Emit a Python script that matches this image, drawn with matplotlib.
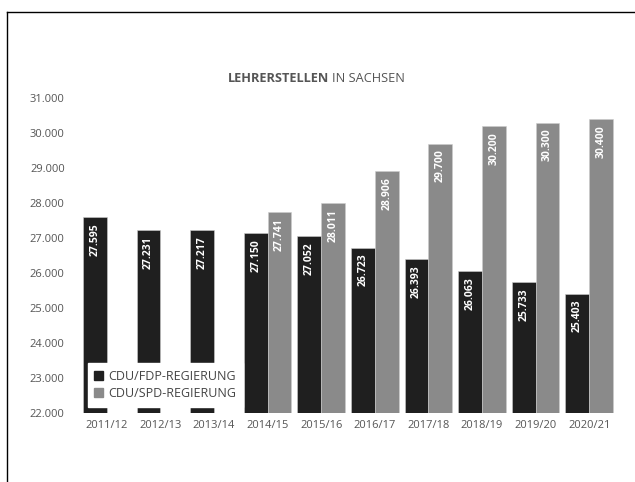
import numpy as np
import matplotlib
matplotlib.use("Agg")
import matplotlib.pyplot as plt
from matplotlib.lines import Line2D
from matplotlib.patches import Patch

plt.rcParams['font.family'] = ['Open Sans', 'DejaVu Sans']

years = ["2011/12", "2012/13", "2013/14", "2014/15", "2015/16",
         "2016/17", "2017/18", "2018/19", "2019/20", "2020/21"]
fdp = [27595, 27231, 27217, 27150, 27052, 26723, 26393, 26063, 25733, 25403]
spd = [None, None, None, 27741, 28011, 28906, 29700, 30200, 30300, 30400]
series_names = ["CDU/FDP-REGIERUNG", "CDU/SPD-REGIERUNG"]

c_dark = '#1f1f1f'
c_gray = '#8a8a8a'
c_text = '#555555'

def fmt(v):
    return "{:,}".format(v).replace(",", ".")

fig = plt.figure(figsize=(6.35, 4.82), dpi=100)
ax = fig.add_axes([0.126, 0.143, 0.844, 0.6535])

x = np.arange(len(years))
w = 0.444
base = 22000
for i in range(len(years)):
    ax.bar(x[i] - w / 2, fdp[i] - base, w, bottom=base, color=c_dark,
           edgecolor='#cccccc', linewidth=0.4, zorder=2)
    ax.text(x[i] - w / 2, fdp[i] - 170, fmt(fdp[i]), rotation=90,
            ha='center', va='top', color='white', fontsize=7.5,
            fontweight='bold', zorder=3)
    if spd[i] is not None:
        ax.bar(x[i] + w / 2, spd[i] - base, w, bottom=base, color=c_gray,
               edgecolor='#cccccc', linewidth=0.4, zorder=2)
        ax.text(x[i] + w / 2, spd[i] - 170, fmt(spd[i]), rotation=90,
                ha='center', va='top', color='white', fontsize=7.5,
                fontweight='bold', zorder=3)

ax.set_xlim(-0.5, len(years) - 0.5)
ax.set_ylim(22000, 31000)
ax.set_yticks(np.arange(22000, 31001, 1000))
ax.set_yticklabels([fmt(v) for v in range(22000, 31001, 1000)])
ax.set_xticks(x)
ax.set_xticklabels(years)
ax.tick_params(length=0, labelsize=8, labelcolor=c_text, pad=5)
ax.tick_params(axis='y', pad=11)
for s in ax.spines.values():
    s.set_visible(False)

handles = [Patch(color=c_dark), Patch(color=c_gray)]
leg = ax.legend(handles, series_names, loc='lower left',
                bbox_to_anchor=(0.014, 0.02), frameon=True, fancybox=False,
                framealpha=1, edgecolor='white', fontsize=9,
                handlelength=0.7, handleheight=0.7, handletextpad=0.4,
                labelspacing=0.3, borderpad=0.55, borderaxespad=0)
for t in leg.get_texts():
    t.set_color('#444444')
leg.set_zorder(5)

fig.text(0.518, 0.838, "LEHRERSTELLEN", ha='right', va='center',
         fontsize=9.2, fontweight='bold', color=c_text)
fig.text(0.523, 0.838, "IN SACHSEN", ha='left', va='center',
         fontsize=9.2, color=c_text)

# frame lines of the page
fig.add_artist(Line2D([7 / 635, 1], [1 - 12 / 482, 1 - 12 / 482],
                      color='black', linewidth=1, transform=fig.transFigure))
fig.add_artist(Line2D([7 / 635, 7 / 635], [0, 1 - 12 / 482],
                      color='black', linewidth=1, transform=fig.transFigure))

fig.savefig("out.png", dpi=100)
